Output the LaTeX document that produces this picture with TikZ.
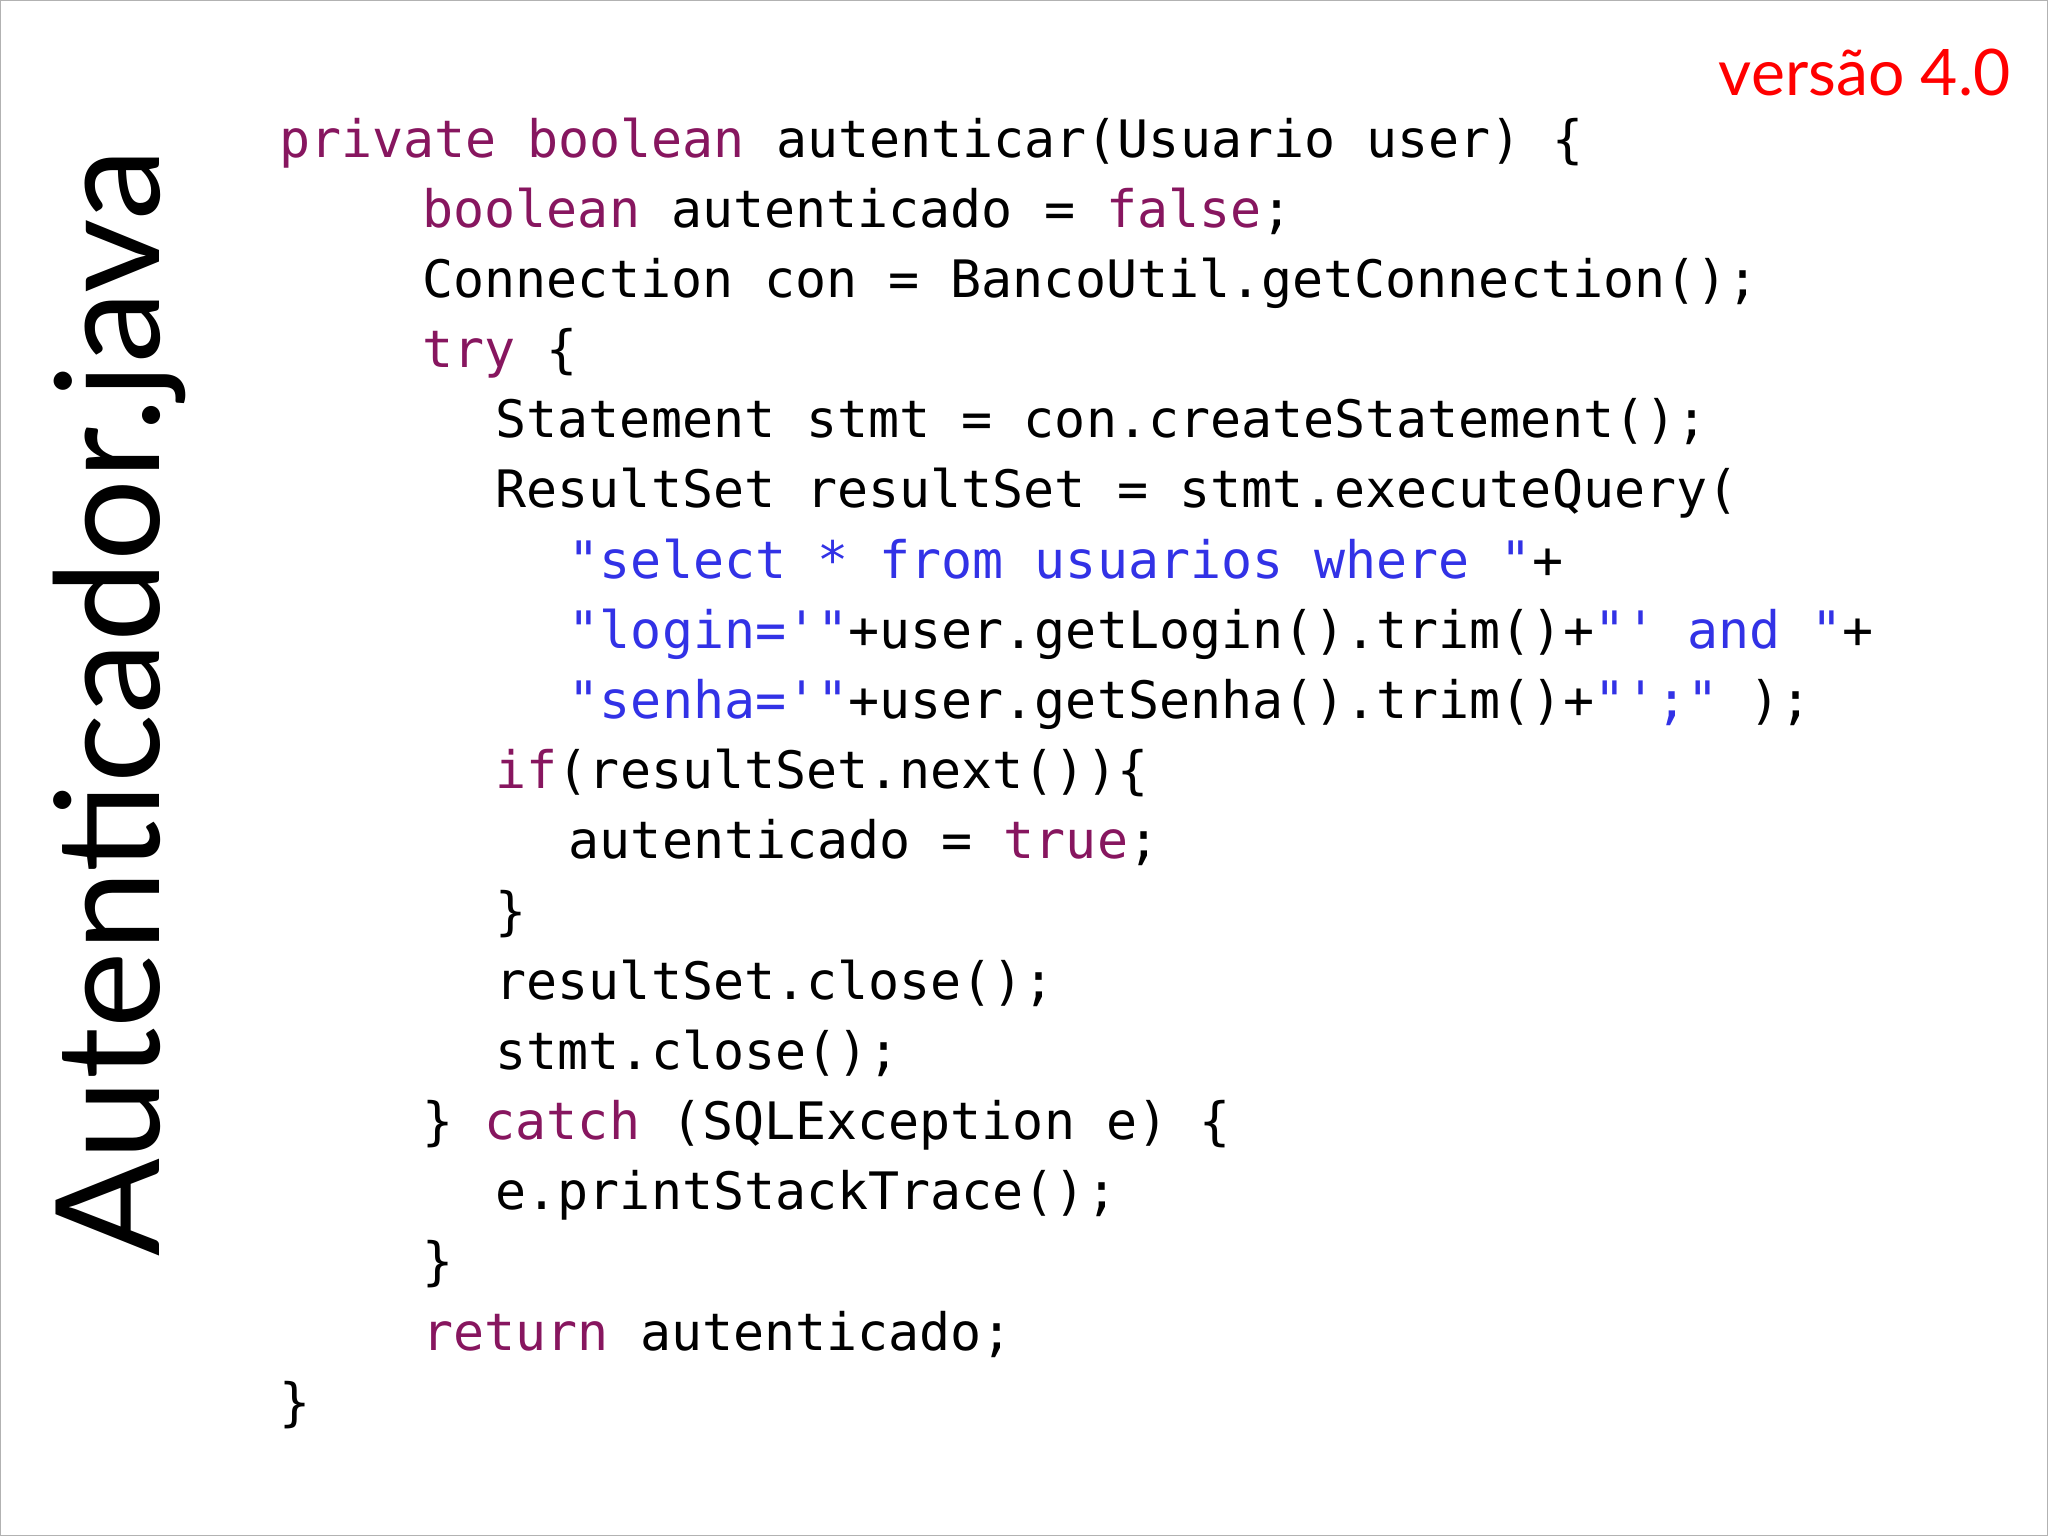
\documentclass[tikz,border=0pt]{standalone}
\usepackage{fontspec}
\setmainfont{Lato}
\setmonofont{DejaVu Sans Mono}
\definecolor{kw}{RGB}{135,22,95}
\definecolor{strc}{RGB}{50,50,230}
\newcommand{\kw}[1]{\textcolor{kw}{#1}}
\newcommand{\st}[1]{\textcolor{strc}{#1}}
\begin{document}
\begin{tikzpicture}[x=0.02cm,y=-0.02cm,
  code/.style={anchor=base west,inner sep=0pt,font=\ttfamily\fontsize{22.5}{26}\selectfont}]
\draw[gray!60,fill=white] (0,0) rectangle (1568,1176);
\useasboundingbox (0,0) rectangle (1568,1176);
\node[anchor=base east,text=red,font=\fontsize{28}{32}\selectfont,inner sep=0pt] (ver) at (1540,73) {versão 4.0};
\node[rotate=90,anchor=base,inner sep=0pt,font=\fontsize{63}{70}\selectfont] (title) at (122,538) {Autenticador.java};
\def\L{53.75}
\node[code] (l1) at (213,120) {\kw{private boolean} autenticar(Usuario user) \{};
\node[code] (l2) at (323,120+\L) {\kw{boolean} autenticado = \kw{false};};
\node[code] (l3) at (323,120+2*\L) {Connection con = BancoUtil.getConnection();};
\node[code] (l4) at (323,120+3*\L) {\kw{try} \{};
\node[code] (l5) at (379,120+4*\L) {Statement stmt = con.createStatement();};
\node[code] (l6) at (379,120+5*\L) {ResultSet resultSet = stmt.executeQuery(};
\node[code] (l7) at (435,120+6*\L) {\st{"select * from usuarios where "}+};
\node[code] (l8) at (435,120+7*\L) {\st{"login='"}+user.getLogin().trim()+\st{"' and "}+};
\node[code] (l9) at (435,120+8*\L) {\st{"senha='"}+user.getSenha().trim()+\st{"';"} );};
\node[code] (l10) at (379,120+9*\L) {\kw{if}(resultSet.next())\{};
\node[code] (l11) at (435,120+10*\L) {autenticado = \kw{true};};
\node[code] (l12) at (379,120+11*\L) {\}};
\node[code] (l13) at (379,120+12*\L) {resultSet.close();};
\node[code] (l14) at (379,120+13*\L) {stmt.close();};
\node[code] (l15) at (323,120+14*\L) {\} \kw{catch} (SQLException e) \{};
\node[code] (l16) at (379,120+15*\L) {e.printStackTrace();};
\node[code] (l17) at (323,120+16*\L) {\}};
\node[code] (l18) at (323,120+17*\L) {\kw{return} autenticado;};
\node[code] (l19) at (213,120+18*\L) {\}};
\end{tikzpicture}
\end{document}
